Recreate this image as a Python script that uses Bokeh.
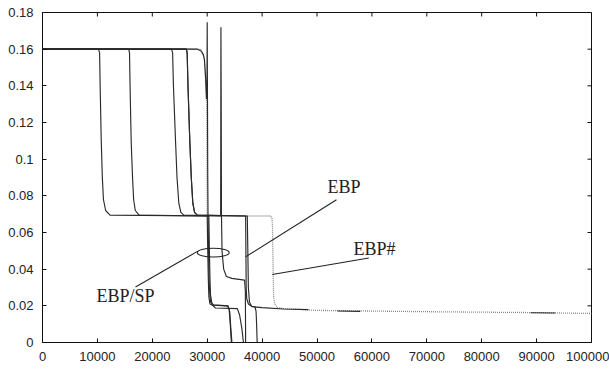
import numpy as np
from bokeh.plotting import figure
from bokeh.models import FixedTicker, Range1d
from bokeh.core.properties import value
from bokeh.embed import file_html
from bokeh.resources import INLINE

nan = float("nan")

# ---- data ----
x_ticks = [0, 10000, 20000, 30000, 40000, 50000, 60000, 70000, 80000, 90000, 100000]
x_tick_labels = ["0", "10000", "20000", "30000", "40000", "50000", "60000", "70000", "80000", "90000", "100000"]
y_ticks = [0.0, 0.02, 0.04, 0.06, 0.08, 0.1, 0.12, 0.14, 0.16, 0.18]
y_tick_labels = ["0", "0.02", "0.04", "0.06", "0.08", "0.1", "0.12", "0.14", "0.16", "0.18"]
x_max = 100000
y_max = 0.18

s1_x = [0, 10200, 10400, 10500, 10700, 10900, 11100, 11500, 12300, 30000, 30100, 30200, 30300, 30500, 31000, 33700, 34000, 34200, 34400]
s1_y = [0.16, 0.16, 0.158, 0.14, 0.11, 0.09, 0.078, 0.072, 0.0695, 0.069, 0.05, 0.035, 0.025, 0.021, 0.0203, 0.020, 0.018, 0.01, 0.0]

s2_x = [0, 15700, 15850, 15950, 16150, 16400, 16600, 16900, 17600, 30300, 30400, 30500, 30600, 30900, 31500, 35500, 35900, 36300, 36600]
s2_y = [0.16, 0.16, 0.158, 0.14, 0.11, 0.09, 0.078, 0.072, 0.0695, 0.069, 0.05, 0.035, 0.026, 0.0205, 0.0188, 0.0185, 0.015, 0.008, 0.0]

s3_x = [0, 23500, 23700, 23850, 24230, 24500, 24830, 25200, 25740, 32450, 32500, 32550, 32600, 32700, 33000, 33500, 34500, 36800, 36950, 37000]
s3_y = [0.16, 0.16, 0.158, 0.14, 0.11, 0.09, 0.076, 0.071, 0.0695, 0.069, 0.172, 0.133, 0.07, 0.05, 0.04, 0.036, 0.035, 0.034, 0.028, 0.0]

s4_x = [0, 26200, 26350, 26500, 26830, 27100, 27380, 27700, 28180, 37300, 37400, 37500, 37700, 38100, 38700, 38900, 39000, 39100]
s4_y = [0.16, 0.16, 0.158, 0.14, 0.11, 0.09, 0.076, 0.071, 0.0695, 0.069, 0.05, 0.03, 0.022, 0.0198, 0.0195, 0.017, 0.01, 0.0]

s5_x = [0, 28200, 28900, 29300, 29500, 29700, 29870, 29950, 30000, 30050, 30100, 30150, 30200, 30300, 30400, 30600, 31200, 33800, 34100, 34300, 34500]
s5_y = [0.16, 0.16, 0.159, 0.157, 0.154, 0.145, 0.133, 0.133, 0.1747, 0.133, 0.09, 0.07, 0.06, 0.04, 0.03, 0.022, 0.0205, 0.020, 0.017, 0.008, 0.0]

ebp_x = [0, 26200, 26350, 26500, 26830, 27100, 27380, 27700, 28180, 37000, 37050, 37100, 37200, 37500, 38200, 40000, 43900, 48450, nan, 53700, 57900, nan, 88900, 93400]
ebp_y = [0.16, 0.16, 0.158, 0.14, 0.11, 0.09, 0.076, 0.071, 0.0695, 0.069, 0.05, 0.03, 0.024, 0.021, 0.0195, 0.019, 0.0183, 0.0179, nan, 0.0172, 0.0170, nan, 0.0162, 0.0161]

ebph_x = [0, 28800, 29500, 29900, 30000, 41600, 41800, 41900, 42000, 42100, 42300, 42800, 44000, 50000, 70000, 90000, 100000]
ebph_y = [0.16, 0.16, 0.155, 0.13, 0.069, 0.069, 0.0675, 0.063, 0.04, 0.025, 0.021, 0.019, 0.0185, 0.0175, 0.0168, 0.0163, 0.0158]

# annotations: labels, leader lines, ellipse
labels = ["EBP/SP", "EBP", "EBP#"]
label_x = [9840, 51900, 56650]
label_y = [0.0252, 0.0846, 0.0509]
leader_x0 = [16940, 53550, 59440]
leader_y0 = [0.0303, 0.0779, 0.0461]
leader_x1 = [28230, 36980, 41840]
leader_y1 = [0.0497, 0.0467, 0.0371]
ellipse_x, ellipse_y, ellipse_w, ellipse_h = 31100, 0.049, 5800, 0.0048

# ---- figure ----
p = figure(width=609, height=371,
           x_range=Range1d(0, x_max), y_range=Range1d(0, y_max),
           output_backend="svg", toolbar_location=None,
           min_border_left=42, min_border_top=12, min_border_right=18, min_border_bottom=29,
           background_fill_color="white", border_fill_color="white")
p.grid.visible = False
p.outline_line_color = "#111111"

label_font = "Liberation Sans"
p.xaxis.ticker = FixedTicker(ticks=x_ticks)
p.xaxis.major_label_overrides = {t: l for t, l in zip(x_ticks, x_tick_labels)}
p.xaxis.major_label_standoff = 9
p.yaxis.ticker = FixedTicker(ticks=y_ticks)
p.yaxis.major_label_overrides = {t: l for t, l in zip(y_ticks, y_tick_labels)}
p.yaxis.major_label_standoff = 9
for ax in list(p.xaxis) + list(p.yaxis):
    ax.major_tick_in = 4
    ax.major_tick_out = 0
    ax.minor_tick_line_color = None
    ax.axis_line_color = "#111111"
    ax.major_tick_line_color = "#111111"
    ax.major_label_text_font = label_font
    ax.major_label_text_font_size = "13px"
    ax.major_label_text_color = "#222222"

# inward ticks on the top and right edges (half of each dash is clipped by the frame)
p.scatter(x=x_ticks, y=[y_max] * len(x_ticks), marker="dash", angle=np.pi / 2,
          size=8, line_color="#111111", line_width=1)
p.scatter(x=[x_max] * len(y_ticks), y=y_ticks, marker="dash",
          size=8, line_color="#111111", line_width=1)

# EBP# dotted grey
p.line(ebph_x, ebph_y, line_color="#8a8a8a", line_width=1.3, line_dash="1 1")
# solid curves
for xs, ys in [(s1_x, s1_y), (s2_x, s2_y), (s3_x, s3_y), (s4_x, s4_y), (s5_x, s5_y), (ebp_x, ebp_y)]:
    p.line(xs, ys, line_color="#2a2a2a", line_width=1.15)

# annotations
p.segment(x0=leader_x0, y0=leader_y0, x1=leader_x1, y1=leader_y1, line_color="#222222", line_width=1.1)
p.ellipse(x=[ellipse_x], y=[ellipse_y], width=[ellipse_w], height=[ellipse_h],
          fill_color=None, line_color="#222222", line_width=1.1)
p.text(x=label_x, y=label_y, text=labels, text_font=value("Liberation Serif"),
       text_font_size="18px", text_color="#222222", text_align="left", text_baseline="middle")

open("out.html", "w").write(file_html(p, INLINE))
